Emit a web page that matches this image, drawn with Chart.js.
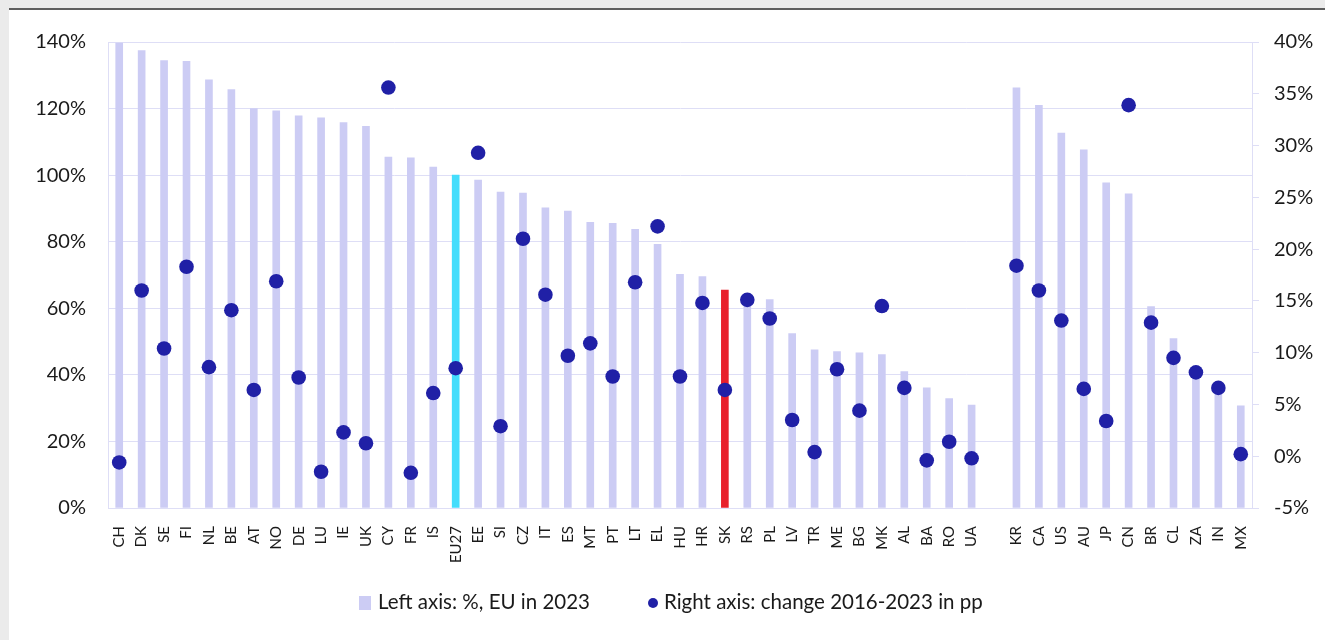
<!DOCTYPE html>
<html>
<head>
<meta charset="utf-8">
<script src="https://cdn.jsdelivr.net/npm/chart.js@4/dist/chart.umd.min.js"></script>
<style>
  html, body { margin:0; padding:0; }
  body { width:1325px; height:640px; background:#ebebeb; position:relative; overflow:hidden; font-family: Lato, "Open Sans", sans-serif; }
  #panel { position:absolute; left:9px; top:8px; width:1316px; height:632px; background:#fff; border-top:2px solid #5e5e5e; }
  #wrap { position:absolute; left:0; top:0; width:1325px; height:640px; }
  #legend { position:absolute; top:589px; left:0; width:1325px; font-size:20.5px; color:#1a1a1a; }
  .item { position:absolute; top:0; white-space:nowrap; line-height:24px; }
  .sq { display:inline-block; width:12px; height:14px; background:#ccccf4; vertical-align:-1px; margin-right:7px; }
  .dot { display:inline-block; width:10px; height:10px; border-radius:50%; background:#2020a6; vertical-align:1px; margin-right:6px; }
</style>
</head>
<body>
<div id="panel"></div>
<div id="wrap"><canvas id="c" width="1325" height="640"></canvas></div>
<div id="legend">
  <span class="item" style="left:359px"><span class="sq"></span>Left axis: %, EU in 2023</span>
  <span class="item" style="left:648px"><span class="dot"></span>Right axis: change 2016-2023 in pp</span>
</div>
<script>
const categories = ["CH","DK","SE","FI","NL","BE","AT","NO","DE","LU","IE","UK","CY","FR","IS","EU27","EE","SI","CZ","IT","ES","MT","PT","LT","EL","HU","HR","SK","RS","PL","LV","TR","ME","BG","MK","AL","BA","RO","UA","","KR","CA","US","AU","JP","CN","BR","CL","ZA","IN","MX"];

const level2023 = [139.7,137.4,134.4,134.2,128.6,125.7,120.0,119.3,117.8,117.2,115.8,114.7,105.4,105.2,102.4,100.0,98.5,94.9,94.6,90.2,89.2,85.8,85.5,83.7,79.2,70.2,69.5,65.5,64.0,62.6,52.4,47.5,47.0,46.6,46.1,41.0,36.1,32.9,30.9,null,126.2,121.0,112.6,107.6,97.7,94.4,60.5,50.9,41.0,37.5,30.7];

const change2016_2023 = [-0.6,16.0,10.4,18.3,8.6,14.1,6.4,16.9,7.6,-1.5,2.3,1.25,35.6,-1.6,6.1,8.5,29.3,2.9,21.0,15.6,9.7,10.9,7.7,16.8,22.2,7.7,14.8,6.4,15.1,13.3,3.5,0.4,8.4,4.4,14.5,6.6,-0.4,1.4,-0.2,null,18.4,16.0,13.1,6.5,3.4,33.9,12.9,9.5,8.1,6.6,0.2];

const leftTicks = [0,20,40,60,80,100,120,140];
const rightTicks = [-5,0,5,10,15,20,25,30,35,40];

const seriesNames = ["Left axis: %, EU in 2023", "Right axis: change 2016-2023 in pp"];

const barColors = categories.map(c => c === "EU27" ? "#44ddfc" : (c === "SK" ? "#e8202c" : "#ccccf4"));
const grid = "#dedef6";
const txt = "#1a1a1a";

new Chart(document.getElementById('c'), {
  data: {
    labels: categories,
    datasets: [
      {
        type: 'line',
        label: seriesNames[1],
        data: change2016_2023,
        yAxisID: 'y1',
        showLine: false,
        pointRadius: 7.3,
        pointHoverRadius: 7.3,
        pointBackgroundColor: '#2020a6',
        pointBorderColor: '#2020a6',
        pointBorderWidth: 0,
        order: 0
      },
      {
        type: 'bar',
        label: seriesNames[0],
        data: level2023,
        yAxisID: 'y',
        backgroundColor: barColors,
        barThickness: 7,
        order: 1
      }
    ]
  },
  options: {
    responsive: false,
    animation: false,
    layout: { padding: { left: 0, right: 0, top: 42, bottom: 0 } },
    plugins: { legend: { display: false }, tooltip: { enabled: false } },
    scales: {
      x: {
        offset: true,
        grid: { display: false },
        border: { display: true, color: grid, width: 1 },
        ticks: {
          autoSkip: false, maxRotation: 90, minRotation: 90,
          padding: 10, color: txt,
          font: { family: 'Lato', size: 15 }
        },
        afterFit: s => { s.height = 132; }
      },
      y: {
        position: 'left',
        min: 0, max: 140,
        afterBuildTicks: s => { s.ticks = leftTicks.map(v => ({ value: v })); },
        grid: { color: grid, lineWidth: 1, drawTicks: false },
        border: { display: true, color: grid, width: 1 },
        ticks: {
          padding: 22, color: txt,
          font: { family: 'Lato', size: 20 },
          callback: v => v + '%'
        },
        afterFit: s => { s.width = 108; }
      },
      y1: {
        position: 'right',
        min: -5, max: 40,
        afterBuildTicks: s => { s.ticks = rightTicks.map(v => ({ value: v })); },
        grid: { drawOnChartArea: false, drawTicks: true, tickLength: 7, color: grid },
        border: { display: true, color: grid, width: 1 },
        ticks: {
          padding: 15, color: txt,
          font: { family: 'Lato', size: 20 },
          callback: v => v + '%'
        },
        afterFit: s => { s.width = 73; }
      }
    }
  }
});
</script>
</body>
</html>
